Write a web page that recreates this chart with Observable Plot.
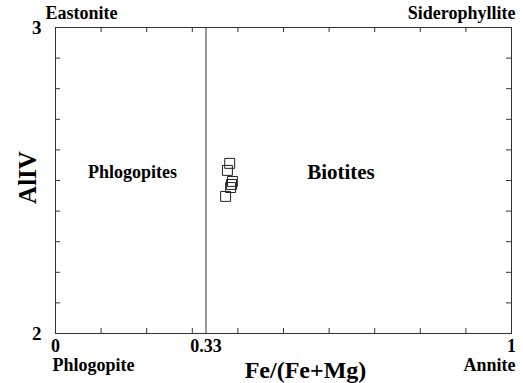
<!DOCTYPE html>
<html><head><meta charset="utf-8">
<script src="https://cdn.jsdelivr.net/npm/d3@7"></script>
<script src="https://cdn.jsdelivr.net/npm/@observablehq/plot@0.6"></script>
<style>
body{margin:0;background:#fff}
#chart svg, #chart svg text { font-family: "Liberation Serif", "Times New Roman", serif !important; font-weight: bold !important; }
</style>
</head><body><div id="chart"></div>
<script>
const feRatio = [0.382, 0.377, 0.388, 0.386, 0.384, 0.373];
const alIV = [2.556, 2.533, 2.497, 2.487, 2.477, 2.448];
const xTickLabels = [0, 0.33, 1];
const yTickLabels = [2, 3];
const xMinorTicks = [0.1, 0.2, 0.3, 0.4, 0.5, 0.6, 0.7, 0.8, 0.9];
const yMinorTicks = [2.1, 2.2, 2.3, 2.4, 2.5, 2.6, 2.7, 2.8, 2.9];
const divider = [0.33];
const fieldNames = ["Phlogopites", "Biotites"];
const fieldX = [0.169, 0.626];
const fieldY = [2.526, 2.526];
const fieldSize = [18, 21];

const points = feRatio.map((x, i) => ({x, y: alIV[i]}));
const fields = fieldNames.map((t, i) => ({t, x: fieldX[i], y: fieldY[i], s: fieldSize[i]}));

const W = 523, H = 383, mL = 55, mR = 12, mT = 27, mB = 50;
const pw = W - mL - mR, ph = H - mT - mB;
const tick = 5;
const ink = "#333";
const lbl = {fill: "#000", lineAnchor: "middle"};

const chart = Plot.plot({
  width: W, height: H,
  marginLeft: mL, marginRight: mR, marginTop: mT, marginBottom: mB,
  x: {domain: [0, 1], axis: null},
  y: {domain: [2, 3], axis: null},
  style: {color: "#000", background: "#fff", overflow: "visible"},
  marks: [
    Plot.frame({stroke: ink, strokeWidth: 1}),
    Plot.ruleX(divider, {stroke: ink, strokeWidth: 1}),
    Plot.tickX(xMinorTicks, {x: d => d, insetTop: ph - tick, stroke: ink}),
    Plot.tickX(xMinorTicks, {x: d => d, insetBottom: ph - tick, stroke: ink}),
    Plot.tickY(yMinorTicks, {y: d => d, insetRight: pw - tick, stroke: ink}),
    Plot.tickY(yMinorTicks, {y: d => d, insetLeft: pw - tick, stroke: ink}),
    Plot.axisX(xTickLabels, {anchor: "bottom", label: null, tickSize: 0, tickPadding: 6, fontSize: 18, fill: "#000", tickFormat: d => d === 0.33 ? "0.33" : String(d)}),
    Plot.axisY(yTickLabels, {anchor: "left", label: null, tickSize: 0, tickPadding: 14, fontSize: 19, fill: "#000", tickFormat: d => String(d)}),
    Plot.dot(points, {x: "x", y: "y", symbol: "square", r: 5.6, stroke: "#222", strokeWidth: 1, fill: "none"}),
    Plot.text(fields, {x: "x", y: "y", text: "t", fontSize: d => d.s, ...lbl}),
    Plot.text(["AlIV"], {frameAnchor: "left", dx: -28, dy: -3, rotate: -90, textAnchor: "middle", fontSize: 25, ...lbl}),
    Plot.text(["Fe/(Fe+Mg)"], {frameAnchor: "bottom", dx: 22, dy: 37, textAnchor: "middle", fontSize: 24, ...lbl}),
    Plot.text(["Eastonite"], {frameAnchor: "top-left", dx: -10, dy: -14, textAnchor: "start", fontSize: 18, ...lbl}),
    Plot.text(["Siderophyllite"], {frameAnchor: "top-right", dx: 4, dy: -14, textAnchor: "end", fontSize: 18, ...lbl}),
    Plot.text(["Phlogopite"], {frameAnchor: "bottom-left", dx: -3, dy: 32, textAnchor: "start", fontSize: 18, ...lbl}),
    Plot.text(["Annite"], {frameAnchor: "bottom-right", dx: 4, dy: 32, textAnchor: "end", fontSize: 18, ...lbl})
  ]
});
document.getElementById("chart").appendChild(chart);
</script>
</body></html>
